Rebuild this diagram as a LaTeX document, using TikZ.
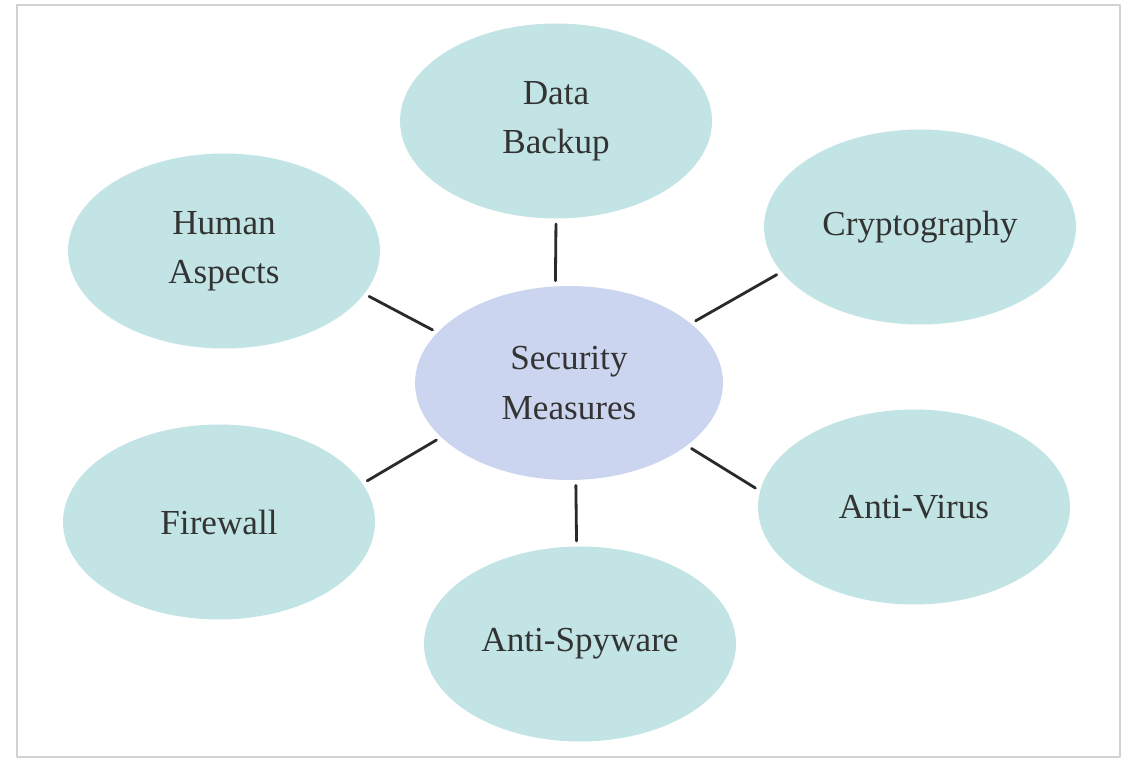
\documentclass[tikz,border=0pt]{standalone}
\usepackage{fontspec}
\setmainfont{Liberation Serif}
\usetikzlibrary{shapes.geometric}
\definecolor{outerfill}{HTML}{C2E4E4}
\definecolor{innerfill}{HTML}{CCD5EF}
\definecolor{inktext}{HTML}{333333}
\definecolor{inkline}{HTML}{2A2A2A}
\definecolor{framegray}{HTML}{D2D2D2}
\begin{document}
\begin{tikzpicture}[x=0.02cm, y=-0.02cm, line join=round, line cap=round,
		font=\fontsize{20}{28}\selectfont,
		measure/.style={ellipse, fill=outerfill, text=inktext, align=center, inner sep=0pt,
			minimum width=6.24cm, minimum height=3.9cm},
		hub/.style={measure, fill=innerfill, minimum width=6.16cm, minimum height=3.88cm},
		link/.style={draw=inkline, line width=1.6pt, shorten <=3pt, shorten >=3pt}]
		\useasboundingbox (0,0) rectangle (1124,760);
		\draw[framegray, line width=1.2pt] (17,5) rectangle (1120,757);
		% hub and the six measures
		\node[hub] (sec) at (569,383) {Security\\Measures};
		\node[measure] (data) at (556,121) {Data\\Backup};
		\node[measure] (crypto) at (920,227) {Cryptography};
		\node[measure] (human) at (224,251) {Human\\Aspects};
		\node[measure] (fire) at (219,522) {Firewall};
		\node[measure] (virus) at (914,507) {Anti-Virus};
		\node[measure] (spy) at (580,644) {Anti-Spyware};
		% connectors
		\draw[link] (data.south) -- (sec.98);
		\draw[link] (crypto.198) -- (sec.26);
		\draw[link] (human.-17) -- (sec.159);
		\draw[link] (fire.15) -- (sec.203);
		\draw[link] (virus.174) -- (sec.-28);
		\draw[link] (spy.92) -- (sec.-86);
	\end{tikzpicture}
\end{document}
